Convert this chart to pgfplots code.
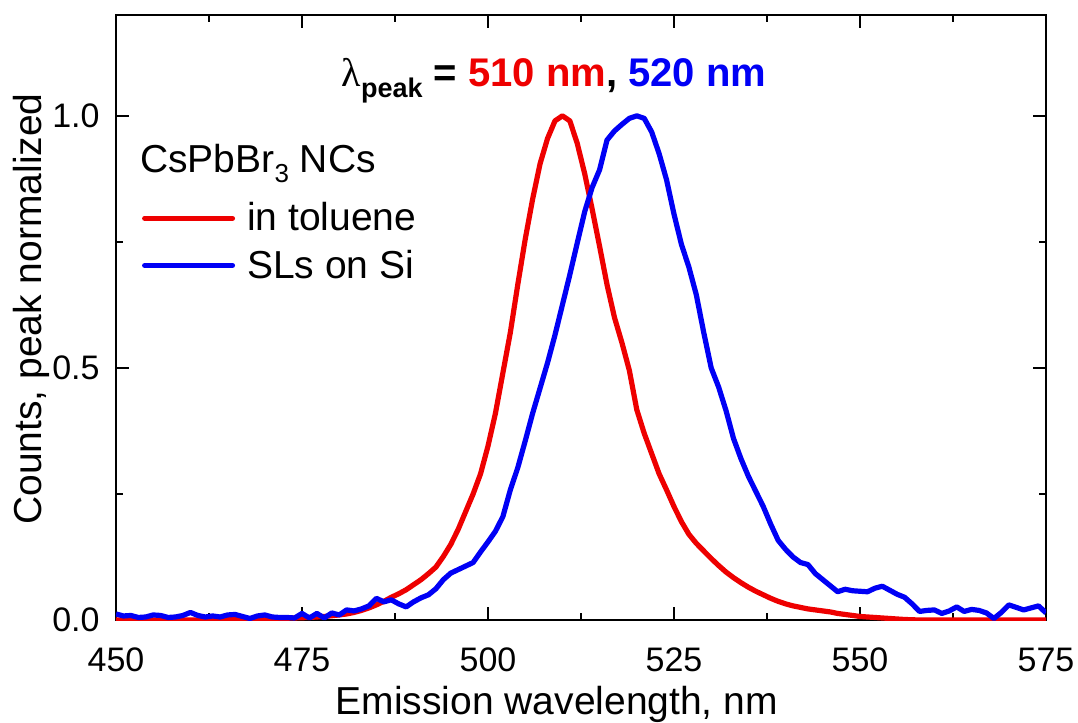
\documentclass[border=0pt]{standalone}
\usepackage{fontspec}
\setmainfont{Liberation Sans}
\newfontfamily\greekserif{Liberation Serif}
\usepackage{pgfplots}
\pgfplotsset{compat=1.18}

\definecolor{tolred}{RGB}{238,0,0}
\definecolor{siblue}{RGB}{0,0,245}

% PL spectra, peak normalized
\pgfplotstableread{
x y
450 0.000
455 0.000
460 0.000
465 0.001
470 0.002
472 0.003
474 0.004
476 0.005
478 0.007
480 0.010
481 0.012
482 0.015
483 0.019
484 0.024
485 0.030
486 0.037
487 0.045
488 0.052
489 0.060
490 0.070
491 0.080
492 0.092
493 0.105
494 0.126
495 0.150
496 0.180
497 0.215
498 0.250
499 0.290
500 0.345
501 0.410
502 0.490
503 0.570
504 0.665
505 0.755
506 0.835
507 0.905
508 0.955
509 0.990
510 1.000
511 0.990
512 0.945
513 0.885
514 0.815
515 0.741
516 0.665
517 0.600
518 0.550
519 0.495
520 0.417
521 0.370
522 0.330
523 0.290
524 0.258
525 0.225
526 0.195
527 0.170
528 0.152
529 0.137
530 0.122
531 0.108
532 0.095
533 0.084
534 0.074
535 0.065
536 0.057
537 0.050
538 0.043
539 0.037
540 0.032
541 0.028
542 0.025
543 0.022
544 0.020
545 0.018
546 0.016
547 0.013
548 0.011
549 0.009
550 0.007
552 0.005
554 0.003
556 0.001
558 0.000
565 0.000
575 0.000
}\toluene

\pgfplotstableread{
x y
450 0.012
451 0.008
452 0.009
453 0.005
454 0.006
455 0.010
456 0.009
457 0.005
458 0.006
459 0.009
460 0.015
461 0.009
462 0.006
463 0.008
464 0.006
465 0.010
466 0.011
467 0.007
468 0.003
469 0.008
470 0.010
471 0.006
472 0.005
473 0.005
474 0.004
475 0.013
476 0.004
477 0.013
478 0.004
479 0.014
480 0.010
481 0.020
482 0.018
483 0.022
484 0.028
485 0.043
486 0.036
487 0.040
488 0.032
489 0.026
490 0.036
491 0.044
492 0.050
493 0.062
494 0.080
495 0.093
496 0.100
497 0.107
498 0.114
499 0.135
500 0.155
501 0.176
502 0.205
503 0.258
504 0.302
505 0.355
506 0.410
507 0.460
508 0.510
509 0.565
510 0.625
511 0.685
512 0.748
513 0.810
514 0.858
515 0.893
516 0.952
517 0.970
518 0.983
519 0.995
520 1.000
521 0.995
522 0.968
523 0.925
524 0.873
525 0.805
526 0.745
527 0.700
528 0.645
529 0.570
530 0.500
531 0.462
532 0.415
533 0.360
534 0.320
535 0.285
536 0.255
537 0.225
538 0.190
539 0.158
540 0.140
541 0.125
542 0.114
543 0.110
544 0.092
545 0.080
546 0.068
547 0.056
548 0.061
549 0.058
550 0.057
551 0.056
552 0.063
553 0.067
554 0.059
555 0.051
556 0.045
557 0.032
558 0.017
559 0.019
560 0.020
561 0.013
562 0.018
563 0.026
564 0.017
565 0.021
566 0.019
567 0.014
568 0.003
569 0.015
570 0.030
571 0.025
572 0.020
573 0.024
574 0.028
575 0.014
}\silicon

\begin{document}
\begin{tikzpicture}
\useasboundingbox (-58pt,-51.5pt) rectangle (481pt,310pt);
\begin{axis}[
  at={(0,0)}, anchor=south west,
  scale only axis, width=465pt, height=302.5pt,
  xmin=450, xmax=575, ymin=0, ymax=1.2,
  xtick={450,475,...,575}, ytick={0,0.5,1.0},
  minor x tick num=1, minor y tick num=1,
  tick align=inside, tick pos=both,
  major tick length=6.5pt, minor tick length=3.3pt,
  every tick/.style={black, line width=1pt},
  axis line style={line width=1.2pt},
  /pgf/number format/assume math mode=true,
  ticklabel style={font=\fontsize{17}{20}\selectfont},
  xticklabel style={anchor=base, yshift=-26pt},
  yticklabel style={anchor=east, inner xsep=0pt, xshift=-8pt,
    /pgf/number format/fixed, /pgf/number format/fixed zerofill,
    /pgf/number format/precision=1},
  every axis x label/.style={at={(axis description cs:0.474,-0.157)}, anchor=base},
  every axis y label/.style={at={(axis description cs:-0.0796,0.514)}, rotate=90, anchor=base},
  label style={font=\fontsize{19.5}{23}\selectfont},
  xlabel={Emission wavelength, nm},
  ylabel={Counts, peak normalized},
  legend style={at={(axis description cs:0.0276,0.625)}, anchor=west,
    draw=none, fill=none, inner sep=0pt, column sep=4pt, row sep=4pt,
    font=\fontsize{19.5}{23}\selectfont, cells={anchor=west}},
  legend image code/.code={\draw[#1, line cap=round] (1.3pt,0pt) -- (45.2pt,0pt);},
  every axis plot/.append style={line width=2.6pt, line join=round},
]
\addplot[tolred, no marks] table[x=x, y=y] {\toluene};
\addlegendentry{in toluene}
\addplot[siblue, no marks] table[x=x, y=y] {\silicon};
\addlegendentry{SLs on Si}

\node[anchor=base west, inner sep=0pt, font=\fontsize{19.5}{23}\selectfont]
  at (axis cs:453.2,0.887) {CsPbBr\raisebox{-5pt}{\fontsize{13}{15}\selectfont 3} NCs};
\node[anchor=base west, inner sep=0pt, font=\fontsize{20}{24}\selectfont\bfseries]
  at (axis cs:480.3,1.058) {{\greekserif\mdseries λ}\raisebox{-5.5pt}{\fontsize{13.5}{15}\selectfont peak} = \textcolor{tolred}{510 nm}, \textcolor{siblue}{520 nm}};
\end{axis}
\end{tikzpicture}
\end{document}
